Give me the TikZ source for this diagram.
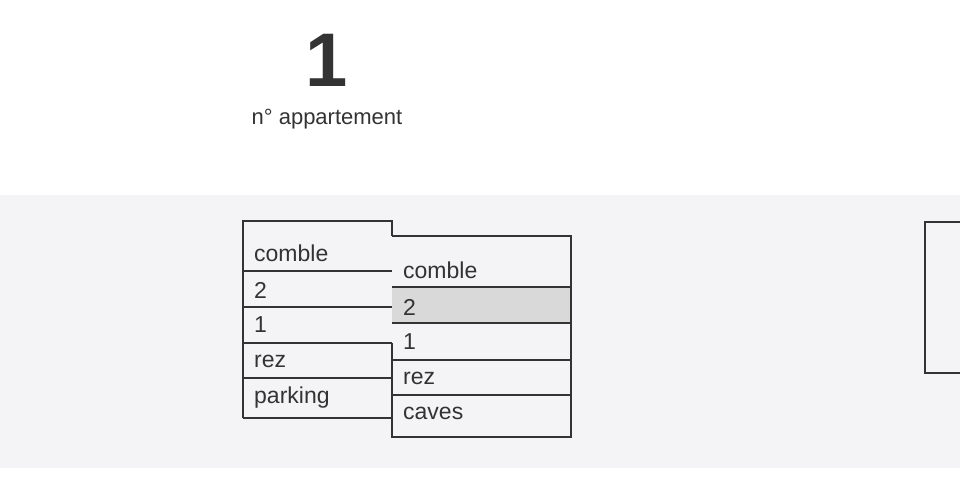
\documentclass[tikz,border=0pt]{standalone}
\usepackage{fontspec}
\setmainfont{Liberation Sans}
\usetikzlibrary{positioning,calc}

\definecolor{inkgray}{HTML}{333333}
\definecolor{bandgray}{HTML}{F4F4F6}
\definecolor{rowgray}{HTML}{D9D9D9}

\tikzset{
    floorlabel/.style={anchor=west, inner sep=0pt, text=inkgray,
        font=\fontsize{23}{26}\selectfont},
    floorline/.style={draw=inkgray, line width=1.4pt}
}

\begin{document}
\begin{tikzpicture}[x=1pt, y=-1pt]
        \useasboundingbox (0,0) rectangle (960,500);
        % Widths and levels of the two stacks
        \pgfmathsetmacro{\xl}{243}
        \pgfmathsetmacro{\xm}{392}
        \pgfmathsetmacro{\xr}{571}

        % Light band behind the stacks
        \fill [bandgray] (0,195) rectangle (960,468);

        % Title
        \node (num) at (327,60) [text=inkgray,
            font=\fontsize{76}{80}\selectfont\bfseries] {1};
        \node (caption) at (327,119) [text=inkgray,
            font=\fontsize{22}{25}\selectfont] {n° appartement};

        % Left stack
        \begin{scope}
            \coordinate (L1) at (\xl,221);
            \coordinate (L2) at (\xm,221);
            \coordinate (L3) at (\xm,236);
            \coordinate (L4) at (\xl,418);
            \coordinate (L5) at (\xm,418);

            \node (lcomble) at (254,253) [floorlabel] {comble};
            \node (ldeux) at (254,290) [floorlabel] {2};
            \node (lun) at (254,325) [floorlabel] {1};
            \node (lrez) at (254,361) [floorlabel] {rez};
            \node (lparking) at (254,398) [floorlabel] {parking};
        \end{scope}

        % Right stack
        \begin{scope}
            \coordinate (R1) at (\xm,236);
            \coordinate (R2) at (\xr,236);
            \coordinate (R3) at (\xr,437);
            \coordinate (R4) at (\xm,437);
            \coordinate (R5) at (\xm,343);

            \fill [rowgray] (\xm,287) rectangle (\xr,323);

            \node (rcomble) at (403,270) [floorlabel] {comble};
            \node (rdeux) at (403,307) [floorlabel] {2};
            \node (run) at (403,342) [floorlabel] {1};
            \node (rrez) at (403,378) [floorlabel] {rez};
            \node (rcaves) at (403,413) [floorlabel] {caves};
        \end{scope}

        \begin{scope}[floorline]
            \draw (L4) -- (L1) -- (L2) -- (L3);
            \draw (L4) -- (L5);
            \draw (\xl,271) -- (\xm,271);
            \draw (\xl,307) -- (\xm,307);
            \draw (\xl,343) -- (\xm,343);
            \draw (\xl,378) -- (\xm,378);

            \draw (R5) -- (R4) -- (R3) -- (R2) -- (R1);
            \draw (\xm,287) -- (\xr,287);
            \draw (\xm,323) -- (\xr,323);
            \draw (\xm,360) -- (\xr,360);
            \draw (\xm,395) -- (\xr,395);

            % Box cut by the right edge
            \draw (966,222) -- (925,222) -- (925,373) -- (966,373);
        \end{scope}

\end{tikzpicture}
\end{document}
